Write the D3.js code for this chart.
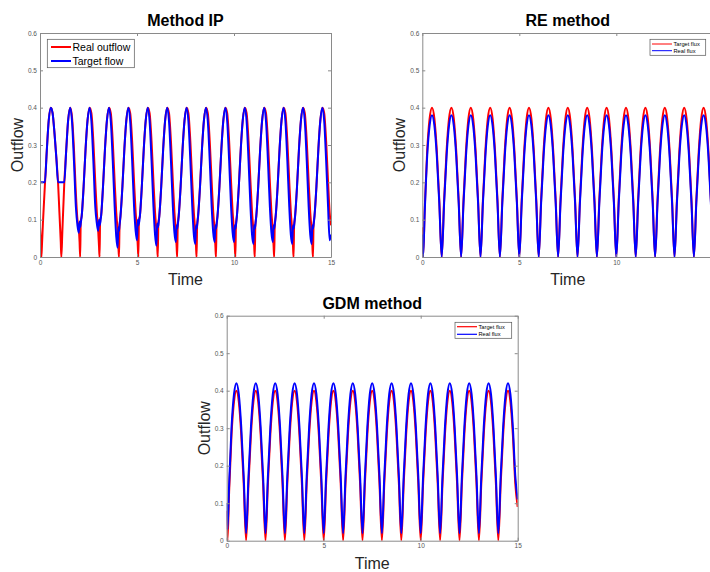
<!DOCTYPE html>
<html>
<head>
<meta charset="utf-8">
<script src="https://cdn.jsdelivr.net/npm/d3@7"></script>
<style>
  body { margin: 0; background: #fff; }
  svg { display: block; font-family: "Liberation Sans", Arial, Helvetica, sans-serif; }
  .axis path, .axis line { stroke: #8a8a8a; }
  .axis text { fill: #555; font-size: 6.5px; font-family: "Liberation Sans", Arial, sans-serif; }
</style>
</head>
<body>
<svg id="chart" width="710" height="572"></svg>
<script>
// tick labels
var timeTicks = [0, 5, 10, 15];
var flowTicks = [0, 0.1, 0.2, 0.3, 0.4, 0.5, 0.6];

// Method IP : sample times
var ipTime = [
  0, 0.04, 0.07, 0.1, 0.15, 0.25, 0.35, 0.45, 0.56, 0.65, 0.75, 0.85, 0.93,
  1, 1.04, 1.07, 1.1, 1.15, 1.25, 1.35, 1.45, 1.56, 1.65, 1.75, 1.85, 1.93,
  2, 2.04, 2.07, 2.1, 2.15, 2.25, 2.35, 2.45, 2.56, 2.65, 2.75, 2.85, 2.93,
  3, 3.04, 3.07, 3.1, 3.15, 3.25, 3.35, 3.45, 3.56, 3.65, 3.75, 3.85, 3.93,
  4, 4.04, 4.07, 4.1, 4.15, 4.25, 4.35, 4.45, 4.56, 4.65, 4.75, 4.85, 4.93,
  5, 5.04, 5.07, 5.1, 5.15, 5.25, 5.35, 5.45, 5.56, 5.65, 5.75, 5.85, 5.93,
  6, 6.04, 6.07, 6.1, 6.15, 6.25, 6.35, 6.45, 6.56, 6.65, 6.75, 6.85, 6.93,
  7, 7.04, 7.07, 7.1, 7.15, 7.25, 7.35, 7.45, 7.56, 7.65, 7.75, 7.85, 7.93,
  8, 8.04, 8.07, 8.1, 8.15, 8.25, 8.35, 8.45, 8.56, 8.65, 8.75, 8.85, 8.93,
  9, 9.04, 9.07, 9.1, 9.15, 9.25, 9.35, 9.45, 9.56, 9.65, 9.75, 9.85, 9.93,
  10, 10.04, 10.07, 10.1, 10.15, 10.25, 10.35, 10.45, 10.56, 10.65, 10.75, 10.85, 10.93,
  11, 11.04, 11.07, 11.1, 11.15, 11.25, 11.35, 11.45, 11.56, 11.65, 11.75, 11.85, 11.93,
  12, 12.04, 12.07, 12.1, 12.15, 12.25, 12.35, 12.45, 12.56, 12.65, 12.75, 12.85, 12.93,
  13, 13.04, 13.07, 13.1, 13.15, 13.25, 13.35, 13.45, 13.56, 13.65, 13.75, 13.85, 13.93,
  14, 14.04, 14.07, 14.1, 14.15, 14.25, 14.35, 14.45, 14.56, 14.65, 14.75, 14.85, 14.93,
  15
];
var ipReal = [
  0.08, 0.035, 0, 0.03, 0.09, 0.19, 0.285, 0.366, 0.4, 0.385, 0.33, 0.26, 0.2,
  0.12, 0.075, 0.04, 0, 0.065, 0.195, 0.285, 0.366, 0.4, 0.375, 0.29, 0.17, 0.1,
  0.075, 0.04, 0, 0.095, 0.11, 0.19, 0.29, 0.366, 0.4, 0.385, 0.31, 0.2, 0.12,
  0.07, 0.03, 0, 0.1, 0.11, 0.19, 0.29, 0.366, 0.4, 0.385, 0.31, 0.2, 0.12,
  0.07, 0.03, 0, 0.08, 0.11, 0.19, 0.29, 0.366, 0.4, 0.385, 0.31, 0.2, 0.12,
  0.07, 0.03, 0, 0.1, 0.11, 0.19, 0.29, 0.366, 0.4, 0.385, 0.31, 0.2, 0.12,
  0.07, 0.03, 0, 0.09, 0.11, 0.19, 0.29, 0.366, 0.4, 0.385, 0.31, 0.2, 0.12,
  0.07, 0.03, 0, 0.085, 0.11, 0.19, 0.29, 0.366, 0.4, 0.385, 0.31, 0.2, 0.12,
  0.07, 0.03, 0, 0.085, 0.11, 0.19, 0.29, 0.366, 0.4, 0.385, 0.31, 0.2, 0.12,
  0.07, 0.03, 0, 0.085, 0.11, 0.19, 0.29, 0.366, 0.4, 0.385, 0.31, 0.2, 0.12,
  0.07, 0.03, 0, 0.085, 0.11, 0.19, 0.29, 0.366, 0.4, 0.385, 0.31, 0.2, 0.12,
  0.07, 0.03, 0, 0.085, 0.11, 0.19, 0.29, 0.366, 0.4, 0.385, 0.31, 0.2, 0.12,
  0.07, 0.03, 0, 0.085, 0.11, 0.19, 0.29, 0.366, 0.4, 0.385, 0.31, 0.2, 0.12,
  0.07, 0.03, 0, 0.085, 0.11, 0.19, 0.29, 0.366, 0.4, 0.385, 0.31, 0.2, 0.12,
  0.07, 0.03, 0, 0.085, 0.11, 0.19, 0.29, 0.366, 0.4, 0.385, 0.31, 0.2, 0.12,
  0.085
];
var ipTarget = [
  0.2, 0.2, 0.2, 0.2, 0.2, 0.2, 0.285, 0.366, 0.4, 0.385, 0.33, 0.26, 0.2,
  0.2, 0.2, 0.2, 0.2, 0.2, 0.2, 0.285, 0.366, 0.4, 0.364, 0.258, 0.134, 0.085,
  0.065, 0.095, 0.08, 0.09, 0.11, 0.19, 0.29, 0.366, 0.4, 0.364, 0.258, 0.134, 0.09,
  0.07, 0.1, 0.085, 0.09, 0.11, 0.19, 0.29, 0.366, 0.4, 0.364, 0.258, 0.134, 0.055,
  0.025, 0.08, 0.07, 0.085, 0.11, 0.19, 0.29, 0.366, 0.4, 0.364, 0.258, 0.134, 0.07,
  0.045, 0.1, 0.085, 0.09, 0.11, 0.19, 0.29, 0.366, 0.4, 0.364, 0.258, 0.134, 0.06,
  0.03, 0.09, 0.08, 0.085, 0.11, 0.19, 0.29, 0.366, 0.4, 0.364, 0.258, 0.134, 0.065,
  0.04, 0.085, 0.075, 0.085, 0.11, 0.19, 0.29, 0.366, 0.4, 0.364, 0.258, 0.134, 0.06,
  0.035, 0.085, 0.075, 0.085, 0.11, 0.19, 0.29, 0.366, 0.4, 0.364, 0.258, 0.134, 0.065,
  0.04, 0.085, 0.075, 0.085, 0.11, 0.19, 0.29, 0.366, 0.4, 0.364, 0.258, 0.134, 0.065,
  0.04, 0.085, 0.075, 0.085, 0.11, 0.19, 0.29, 0.366, 0.4, 0.364, 0.258, 0.134, 0.06,
  0.035, 0.085, 0.075, 0.085, 0.11, 0.19, 0.29, 0.366, 0.4, 0.364, 0.258, 0.134, 0.065,
  0.04, 0.085, 0.075, 0.085, 0.11, 0.19, 0.29, 0.366, 0.4, 0.364, 0.258, 0.134, 0.06,
  0.035, 0.085, 0.075, 0.085, 0.11, 0.19, 0.29, 0.366, 0.4, 0.364, 0.258, 0.134, 0.06,
  0.035, 0.085, 0.075, 0.085, 0.11, 0.19, 0.29, 0.366, 0.4, 0.364, 0.258, 0.134, 0.045,
  0.06
];

// RE and GDM : common sample times
var gridTime = [
  0, 0.04, 0.125, 0.25, 0.375, 0.5, 0.625, 0.75, 0.875,
  1, 1.125, 1.25, 1.375, 1.5, 1.625, 1.75, 1.875,
  2, 2.125, 2.25, 2.375, 2.5, 2.625, 2.75, 2.875,
  3, 3.125, 3.25, 3.375, 3.5, 3.625, 3.75, 3.875,
  4, 4.125, 4.25, 4.375, 4.5, 4.625, 4.75, 4.875,
  5, 5.125, 5.25, 5.375, 5.5, 5.625, 5.75, 5.875,
  6, 6.125, 6.25, 6.375, 6.5, 6.625, 6.75, 6.875,
  7, 7.125, 7.25, 7.375, 7.5, 7.625, 7.75, 7.875,
  8, 8.125, 8.25, 8.375, 8.5, 8.625, 8.75, 8.875,
  9, 9.125, 9.25, 9.375, 9.5, 9.625, 9.75, 9.875,
  10, 10.125, 10.25, 10.375, 10.5, 10.625, 10.75, 10.875,
  11, 11.125, 11.25, 11.375, 11.5, 11.625, 11.75, 11.875,
  12, 12.125, 12.25, 12.375, 12.5, 12.625, 12.75, 12.875,
  13, 13.125, 13.25, 13.375, 13.5, 13.625, 13.75, 13.875,
  14, 14.125, 14.25, 14.375, 14.5, 14.625, 14.75, 14.875,
  15
];
var reTarget = [
  0.08, 0, 0.13, 0.283, 0.37, 0.4, 0.37, 0.283, 0.153,
  0, 0.153, 0.283, 0.37, 0.4, 0.37, 0.283, 0.153,
  0, 0.153, 0.283, 0.37, 0.4, 0.37, 0.283, 0.153,
  0, 0.153, 0.283, 0.37, 0.4, 0.37, 0.283, 0.153,
  0, 0.153, 0.283, 0.37, 0.4, 0.37, 0.283, 0.153,
  0, 0.153, 0.283, 0.37, 0.4, 0.37, 0.283, 0.153,
  0, 0.153, 0.283, 0.37, 0.4, 0.37, 0.283, 0.153,
  0, 0.153, 0.283, 0.37, 0.4, 0.37, 0.283, 0.153,
  0, 0.153, 0.283, 0.37, 0.4, 0.37, 0.283, 0.153,
  0, 0.153, 0.283, 0.37, 0.4, 0.37, 0.283, 0.153,
  0, 0.153, 0.283, 0.37, 0.4, 0.37, 0.283, 0.153,
  0, 0.153, 0.283, 0.37, 0.4, 0.37, 0.283, 0.153,
  0, 0.153, 0.283, 0.37, 0.4, 0.37, 0.283, 0.153,
  0, 0.153, 0.283, 0.37, 0.4, 0.37, 0.283, 0.153,
  0, 0.153, 0.283, 0.37, 0.4, 0.37, 0.283, 0.153,
  0
];
var reReal = [
  0.06, 0, 0.12, 0.269, 0.351, 0.38, 0.351, 0.269, 0.145,
  0, 0.145, 0.269, 0.351, 0.38, 0.351, 0.269, 0.145,
  0, 0.145, 0.269, 0.351, 0.38, 0.351, 0.269, 0.145,
  0, 0.145, 0.269, 0.351, 0.38, 0.351, 0.269, 0.145,
  0, 0.145, 0.269, 0.351, 0.38, 0.351, 0.269, 0.145,
  0, 0.145, 0.269, 0.351, 0.38, 0.351, 0.269, 0.145,
  0, 0.145, 0.269, 0.351, 0.38, 0.351, 0.269, 0.145,
  0, 0.145, 0.269, 0.351, 0.38, 0.351, 0.269, 0.145,
  0, 0.145, 0.269, 0.351, 0.38, 0.351, 0.269, 0.145,
  0, 0.145, 0.269, 0.351, 0.38, 0.351, 0.269, 0.145,
  0, 0.145, 0.269, 0.351, 0.38, 0.351, 0.269, 0.145,
  0, 0.145, 0.269, 0.351, 0.38, 0.351, 0.269, 0.145,
  0, 0.145, 0.269, 0.351, 0.38, 0.351, 0.269, 0.145,
  0, 0.145, 0.269, 0.351, 0.38, 0.351, 0.269, 0.145,
  0, 0.145, 0.269, 0.351, 0.38, 0.351, 0.269, 0.145,
  0
];
var gdmTarget = [
  0.08, 0, 0.13, 0.283, 0.37, 0.4, 0.37, 0.283, 0.153,
  0, 0.153, 0.283, 0.37, 0.4, 0.37, 0.283, 0.153,
  0, 0.153, 0.283, 0.37, 0.4, 0.37, 0.283, 0.153,
  0, 0.153, 0.283, 0.37, 0.4, 0.37, 0.283, 0.153,
  0, 0.153, 0.283, 0.37, 0.4, 0.37, 0.283, 0.153,
  0, 0.153, 0.283, 0.37, 0.4, 0.37, 0.283, 0.153,
  0, 0.153, 0.283, 0.37, 0.4, 0.37, 0.283, 0.153,
  0, 0.153, 0.283, 0.37, 0.4, 0.37, 0.283, 0.153,
  0, 0.153, 0.283, 0.37, 0.4, 0.37, 0.283, 0.153,
  0, 0.153, 0.283, 0.37, 0.4, 0.37, 0.283, 0.153,
  0, 0.153, 0.283, 0.37, 0.4, 0.37, 0.283, 0.153,
  0, 0.153, 0.283, 0.37, 0.4, 0.37, 0.283, 0.153,
  0, 0.153, 0.283, 0.37, 0.4, 0.37, 0.283, 0.153,
  0, 0.153, 0.283, 0.37, 0.4, 0.37, 0.283, 0.153,
  0, 0.153, 0.283, 0.37, 0.4, 0.37, 0.283, 0.153,
  0.09
];
var gdmReal = [
  0.1, 0.03, 0.15, 0.303, 0.39, 0.42, 0.39, 0.303, 0.173,
  0.02, 0.173, 0.303, 0.39, 0.42, 0.39, 0.303, 0.173,
  0.02, 0.173, 0.303, 0.39, 0.42, 0.39, 0.303, 0.173,
  0.02, 0.173, 0.303, 0.39, 0.42, 0.39, 0.303, 0.173,
  0.02, 0.173, 0.303, 0.39, 0.42, 0.39, 0.303, 0.173,
  0.02, 0.173, 0.303, 0.39, 0.42, 0.39, 0.303, 0.173,
  0.02, 0.173, 0.303, 0.39, 0.42, 0.39, 0.303, 0.173,
  0.02, 0.173, 0.303, 0.39, 0.42, 0.39, 0.303, 0.173,
  0.02, 0.173, 0.303, 0.39, 0.42, 0.39, 0.303, 0.173,
  0.02, 0.173, 0.303, 0.39, 0.42, 0.39, 0.303, 0.173,
  0.02, 0.173, 0.303, 0.39, 0.42, 0.39, 0.303, 0.173,
  0.02, 0.173, 0.303, 0.39, 0.42, 0.39, 0.303, 0.173,
  0.02, 0.173, 0.303, 0.39, 0.42, 0.39, 0.303, 0.173,
  0.02, 0.173, 0.303, 0.39, 0.42, 0.39, 0.303, 0.173,
  0.02, 0.173, 0.303, 0.39, 0.42, 0.39, 0.303, 0.173,
  0.11
];

var svg = d3.select("#chart");

var panels = [
  {id: "ip", title: "Method IP", left: 40, top: 33, width: 291, height: 224, time: ipTime,
   series: [{name: "Real outflow", values: ipReal, color: "#ff0000"},
            {name: "Target flow", values: ipTarget, color: "#0000ff"}],
   legend: {x: 7.3, y: 6.3, w: 87, h: 28.4, lineX0: 11, lineX1: 31, rowY: [14, 28], font: 10.5, lw: 2}},
  {id: "re", title: "RE method", left: 422.3, top: 33, width: 291, height: 224, time: gridTime,
   series: [{name: "Target flux", values: reTarget, color: "#ff0000"},
            {name: "Real flux", values: reReal, color: "#0000ff"}],
   legend: {x: 227.7, y: 6.3, w: 55.7, h: 16, lineX0: 229.7, lineX1: 249.7, rowY: [11, 17.7], font: 5.7, lw: 1}},
  {id: "gdm", title: "GDM method", left: 226.7, top: 315.7, width: 291, height: 225, time: gridTime,
   series: [{name: "Target flux", values: gdmTarget, color: "#ff0000"},
            {name: "Real flux", values: gdmReal, color: "#0000ff"}],
   legend: {x: 228.3, y: 6.6, w: 56.7, h: 16, lineX0: 230.3, lineX1: 250.3, rowY: [11, 18.6], font: 5.7, lw: 1.2}}
];

panels.forEach(function(p) {
  var x = d3.scaleLinear().domain([0, 15]).range([0, p.width]),
      y = d3.scaleLinear().domain([0, 0.6]).range([p.height, 0]);

  var g = svg.append("g")
    .attr("transform", "translate(" + p.left + "," + p.top + ")");

  g.append("clipPath").attr("id", "clip-" + p.id)
    .append("rect").attr("width", p.width).attr("height", p.height);

  // the lines
  var line = d3.line()
    .x(function(d, i) { return x(p.time[i]); })
    .y(function(d) { return y(d); })
    .curve(d3.curveMonotoneX);

  g.append("g").attr("clip-path", "url(#clip-" + p.id + ")")
    .selectAll("path")
    .data(p.series)
    .enter()
    .append("path")
    .attr("d", function(s) { return line(s.values); })
    .style("fill", "none")
    .style("stroke", function(s) { return s.color; })
    .style("stroke-width", 2)
    .style("stroke-linejoin", "round");

  // box with inward ticks
  g.append("g").attr("class", "axis")
    .attr("transform", "translate(0," + p.height + ")")
    .call(d3.axisBottom(x).tickValues(timeTicks).tickSize(-3).tickSizeOuter(0).tickPadding(3));
  g.append("g").attr("class", "axis")
    .call(d3.axisTop(x).tickValues(timeTicks).tickSize(-3).tickSizeOuter(0).tickFormat(""));
  g.append("g").attr("class", "axis")
    .call(d3.axisLeft(y).tickValues(flowTicks).tickSize(-3).tickSizeOuter(0).tickPadding(3)
      .tickFormat(d3.format("~g")));
  g.append("g").attr("class", "axis")
    .attr("transform", "translate(" + p.width + ",0)")
    .call(d3.axisRight(y).tickValues(flowTicks).tickSize(-3).tickSizeOuter(0).tickFormat(""));

  g.selectAll(".axis .domain").style("stroke-width", 1);

  // title and labels
  g.append("text")
    .attr("x", p.width / 2)
    .attr("y", -7)
    .attr("text-anchor", "middle")
    .style("font-size", "16px")
    .style("font-weight", "bold")
    .style("fill", "#000")
    .text(p.title);

  g.append("text")
    .attr("transform", "translate(-17," + (p.height / 2) + ")rotate(-90)")
    .attr("text-anchor", "middle")
    .style("font-size", "16px")
    .style("fill", "#262626")
    .text("Outflow");

  g.append("text")
    .attr("x", p.width / 2)
    .attr("y", p.height + 28)
    .attr("text-anchor", "middle")
    .style("font-size", "16px")
    .style("fill", "#262626")
    .text("Time");

  // legend
  var L = p.legend;
  var lg = g.append("g").attr("class", "legend");
  lg.append("rect")
    .attr("x", L.x).attr("y", L.y)
    .attr("width", L.w).attr("height", L.h)
    .style("fill", "#fff")
    .style("stroke", "#555")
    .style("stroke-width", 0.7);
  p.series.forEach(function(s, i) {
    lg.append("line")
      .attr("x1", L.lineX0).attr("x2", L.lineX1)
      .attr("y1", L.rowY[i]).attr("y2", L.rowY[i])
      .style("stroke", s.color)
      .style("stroke-width", L.lw);
    lg.append("text")
      .attr("x", L.lineX1 + 1.5)
      .attr("y", L.rowY[i])
      .attr("dy", "0.36em")
      .style("font-size", L.font + "px")
      .style("fill", "#000")
      .text(s.name);
  });
});
</script>
</body>
</html>
